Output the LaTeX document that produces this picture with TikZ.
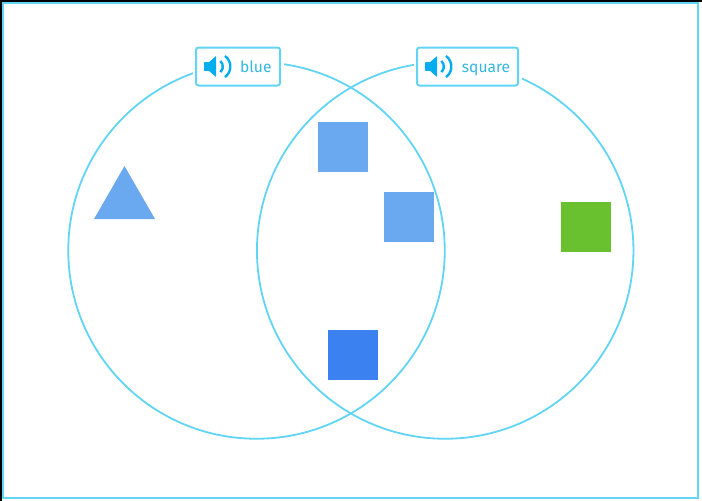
\documentclass[tikz,border=0pt]{standalone}
\usepackage{fontspec}
\setmainfont{Fira Sans}
\definecolor{ringc}{HTML}{62D5F5}
\definecolor{lblc}{HTML}{35B7DE}
\definecolor{iconc}{HTML}{00AEEF}
\definecolor{lightblue}{HTML}{6AA9F0}
\definecolor{deepblue}{HTML}{3B82F0}
\definecolor{leaf}{HTML}{69C12F}
\tikzset{
  ring/.style={draw=ringc,line width=1.8pt,circle,minimum size=376.5pt,inner sep=0pt},
  tagbox/.style={draw=ringc,line width=2pt,rounded corners=2.5pt,fill=white,inner sep=0pt,minimum height=38pt},
  tagmask/.style={fill=white,draw=white,line width=0pt,inner sep=0pt,minimum height=38pt},
  tagtext/.style={text=lblc,font=\fontsize{15.6}{16}\selectfont,inner sep=0pt,anchor=base},
  sq/.style={minimum size=50pt,inner sep=0pt,draw=none},
  speaker/.pic={
    \fill[iconc,rounded corners=0.6pt] (-8,-4.3) -- (-3,-4.3) -- (4,-10.5) -- (4,10.5) -- (-3,4.3) -- (-8,4.3) -- cycle;
    \draw[iconc,line width=2.4pt] (8.3,-5.5) arc[start angle=-50,end angle=50,radius=7.2];
    \draw[iconc,line width=2.4pt] (13,-10.5) arc[start angle=-54,end angle=54,radius=13];
  }
}
\begin{document}
\begin{tikzpicture}[x=1pt,y=-1pt]
\useasboundingbox (0,0) rectangle (702,501);
\fill[black] (0,0) rectangle (702,501);
\fill[white] (2,1.5) rectangle (702,501);
\draw[ringc,line width=2.2pt] (3.3,3) rectangle (698,498);
\node[ring] (left) at (256.5,250.5) {};
\node[ring] (right) at (445.2,250.5) {};
\node[tagmask,minimum width=90pt] (maskA) at (238,66.5) {};
\node[tagmask,minimum width=107pt] (maskB) at (467.5,66.5) {};
\node[tagbox,minimum width=84pt] (tagA) at (238,66.5) {};
\node[tagbox,minimum width=101pt] (tagB) at (467.5,66.5) {};
\pic at (212,66.5) {speaker};
\pic at (433,66.5) {speaker};
\node[tagtext] (blue) at (255.8,72) {blue};
\node[tagtext] (square) at (486,72) {square};
\coordinate (t1) at (124.5,166);
\coordinate (t2) at (155,219);
\coordinate (t3) at (94,219);
\fill[lightblue] (t1) -- (t2) -- (t3) -- cycle;
\node[sq,fill=lightblue] (s1) at (343,147) {};
\node[sq,fill=lightblue] (s2) at (409,217) {};
\node[sq,fill=leaf] (s3) at (586,227) {};
\node[sq,fill=deepblue] (s4) at (353,355) {};
\end{tikzpicture}
\end{document}
